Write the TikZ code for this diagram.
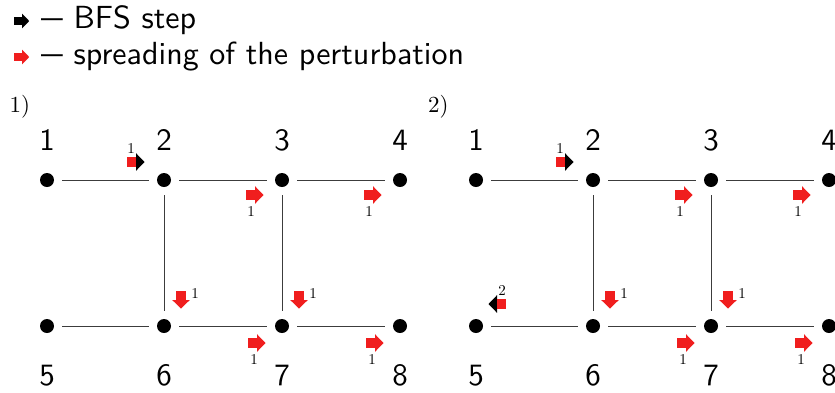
\documentclass[tikz,border=0pt]{standalone}
\usepackage{fontspec}
\newfontfamily\sansten[Extension=.otf]{lmsans10-regular}
\newfontfamily\romanten[Extension=.otf]{lmroman10-regular}
\definecolor{pertred}{RGB}{240,30,30}
\definecolor{edgegray}{RGB}{60,60,60}
\tikzset{
  vtx/.style={circle, fill=black, inner sep=0pt, minimum size=14pt},
  edg/.style={draw=edgegray, line width=1pt, shorten >=8pt, shorten <=8pt},
  num/.style={font=\sansten\fontsize{31}{37}\selectfont, inner sep=0pt, anchor=base},
  leg/.style={font=\sansten\fontsize{32}{38}\selectfont, inner sep=0pt, anchor=base west},
  small/.style={font=\romanten\fontsize{15}{17}\selectfont, inner sep=0pt},
  pnl/.style={font=\romanten\fontsize{23}{28}\selectfont, inner sep=0pt, anchor=base west},
  pics/fullarr/.style={code={
    \fill (-9,-4.8) rectangle (0.5,4.8);
    \fill (0,-8.8) -- (8.5,0) -- (0,8.8) -- cycle;}},
  pics/mixarr/.style={code={
    \fill[black] (0,-8.8) -- (8.5,0) -- (0,8.8) -- cycle;
    \fill[pertred] (-9,-4.8) rectangle (0,4.8);}},
}
\begin{document}
\begin{tikzpicture}[x=1pt,y=-1pt]
\useasboundingbox (0,0) rectangle (835,392);
% legend
\pic[black, scale=0.85] (legarrA) at (22,21) {fullarr};
\node[leg] (legA) at (41,28) {\scalebox{0.68}[1]{—} BFS step};
\pic[pertred, scale=0.85] (legarrB) at (22,57) {fullarr};
\node[leg] (legB) at (41,64) {\scalebox{0.68}[1]{—} spreading of the perturbation};
% panel titles
\node[pnl] (atitle) at (9.5,112) {1)};
\node[pnl] (btitle) at (428,112) {2)};
\foreach \p/\dx in {a/0, b/429} {
  \foreach \i/\x/\y/\ly in {1/47/180/150, 2/164/180/150, 3/282/180/150, 4/400/180/150,
                            5/47/326/385, 6/164/326/385, 7/282/326/385, 8/400/326/385} {
    \node[vtx] (\p\i) at (\x+\dx,\y) {};
    \node[num] (\p lab\i) at (\x+\dx,\ly) {\i};
  }
  \draw[edg] (\p1) -- (\p2);
  \draw[edg] (\p2) -- (\p3);
  \draw[edg] (\p3) -- (\p4);
  \draw[edg] (\p5) -- (\p6);
  \draw[edg] (\p6) -- (\p7);
  \draw[edg] (\p7) -- (\p8);
  \draw[edg] (\p2) -- (\p6);
  \draw[edg] (\p3) -- (\p7);
  % BFS step onto node 2
  \pic (\p mixA) at ([shift={(-28,-18)}]\p2) {mixarr};
  \node[small] (\p mixAl) at ([shift={(-33,-32)}]\p2) {1};
  % spreading arrows
  \foreach \t in {3,4} {
    \pic[pertred] (\p rt\t) at ([shift={(-27,15)}]\p\t) {fullarr};
    \node[small] (\p rtl\t) at ([shift={(-31,31)}]\p\t) {1};
  }
  \foreach \t in {6,7} {
    \pic[pertred, rotate=-90] (\p dn\t) at ([shift={(17,-26)}]\p\t) {fullarr};
    \node[small] (\p dnl\t) at ([shift={(31,-33)}]\p\t) {1};
  }
  \foreach \t in {7,8} {
    \pic[pertred] (\p rb\t) at ([shift={(-25,17)}]\p\t) {fullarr};
    \node[small] (\p rbl\t) at ([shift={(-28,33)}]\p\t) {1};
  }
}
% panel 2 only: BFS step back to node 5
\pic[rotate=180] (bmixB) at ([shift={(21,-22)}]b5) {mixarr};
\node[small] (bmixBl) at ([shift={(26,-36)}]b5) {2};
\end{tikzpicture}
\end{document}
